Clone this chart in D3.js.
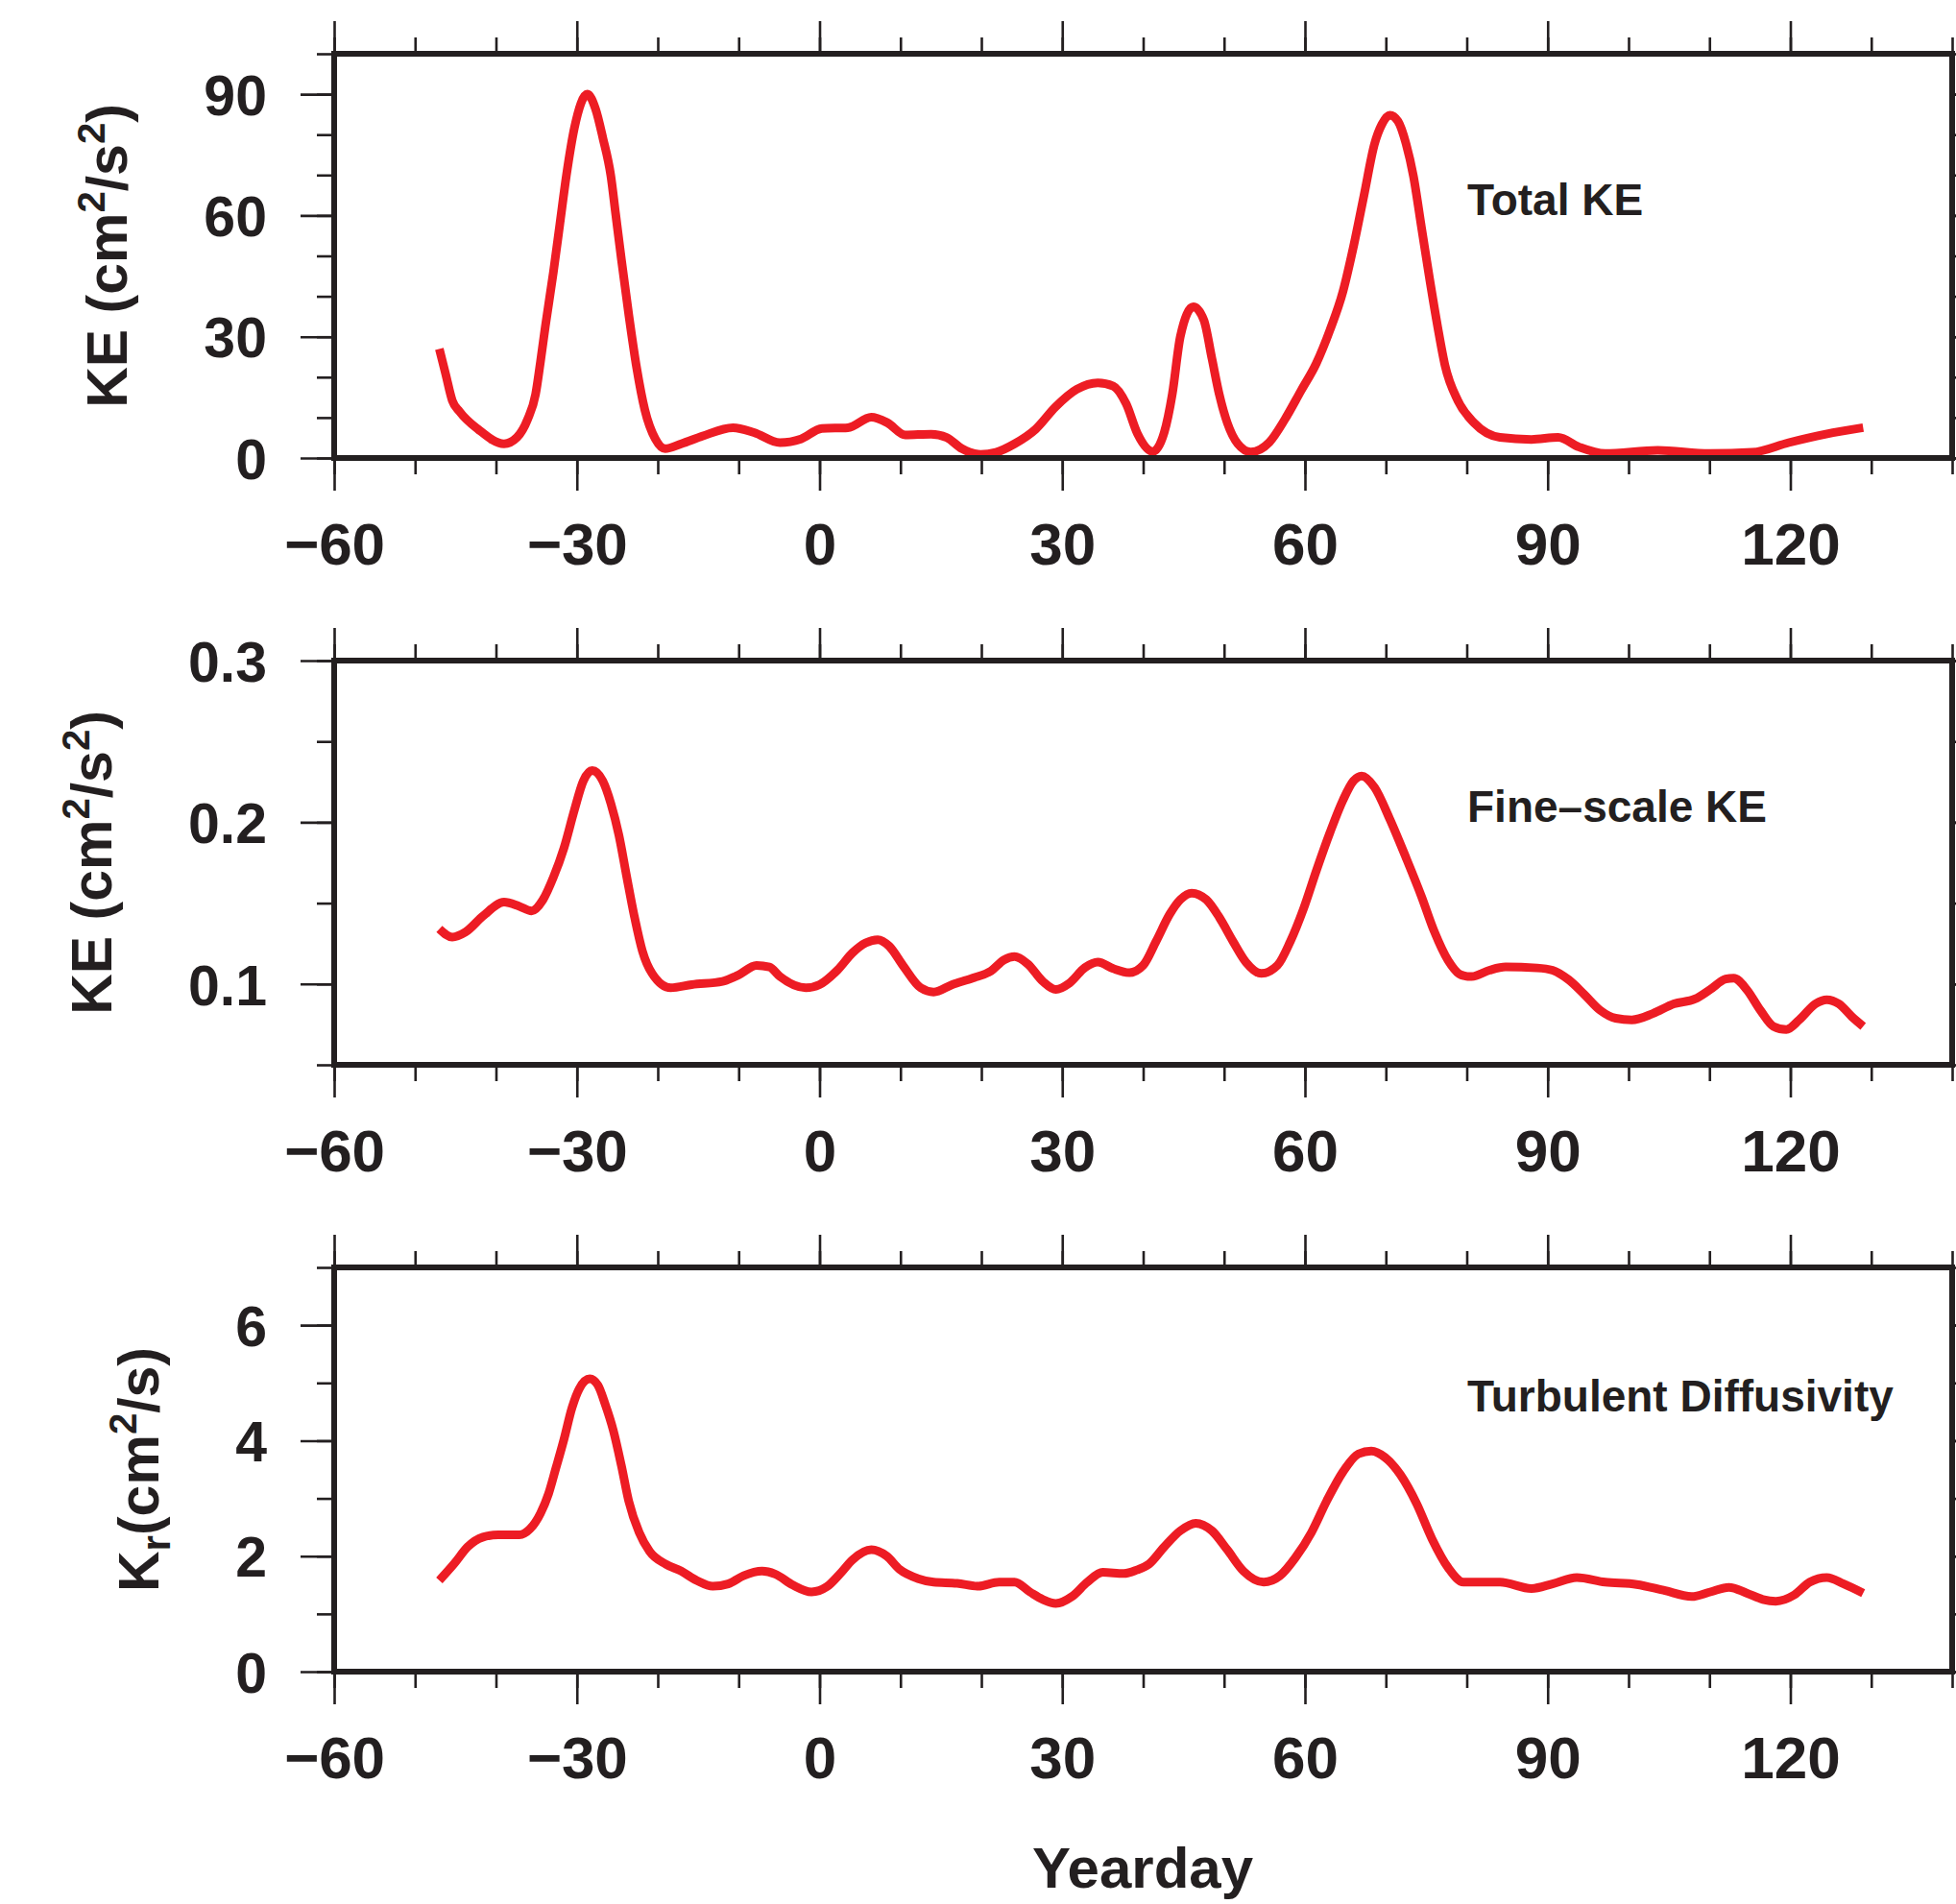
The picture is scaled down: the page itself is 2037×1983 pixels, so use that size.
<!DOCTYPE html>
<html>
<head>
<meta charset="utf-8">
<script src="https://cdn.jsdelivr.net/npm/d3@7"></script>
<style>
  body { margin: 0; background: #fff; }
  text { font-family: "Liberation Sans", Arial, Helvetica, sans-serif; font-weight: bold; fill: #231f20; }
</style>
</head>
<body>
<div id="chart"></div>
<script>
// yearday axis ticks
var xMajor = [-60, -30, 0, 30, 60, 90, 120];
var xMinor = d3.range(-60, 141, 10);

// panel 1: total KE (cm2/s2)
var totalDays = [-47, -46.2, -45.4, -44.5, -42.2, -39, -37.4, -36.1, -35.1, -34.5, -33.9, -32.9, -32.1, -31.3, -30.3, -28.7,
  -27.7, -26.8, -25.8, -25.2, -24.5, -23.6, -22.6, -21.6, -20.3, -19.1, -17.1, -14.5, -10.7, -8.1, -4.9, -2.3, 0.3, 3.5,
  6.4, 8.4, 10.6, 13.8, 15.7, 17.6, 19.9, 21.8, 24.1, 26.7, 29.2, 31.8, 34.4, 36.3, 37.9, 39.3, 41.2, 42.6, 43.6, 44.6,
  46.2, 47.5, 48.5, 49.4, 50.4, 51.7, 53.3, 55.6, 57.5, 59.5, 61.4, 63.1, 64.7, 66, 67.3, 68.6, 69.5, 70.5, 71.5, 72.5,
  73.4, 74.4, 75.4, 76.4, 77.3, 78.9, 80.9, 84.1, 88, 91.3, 93.9, 97.1, 103.6, 110.1, 115.3, 119.8, 124.4, 129];
var totalKE = [27, 20.6, 14.2, 11.5, 7.1, 3.5, 5.1, 9.5, 15.8, 23.8, 32.5, 46, 57.9, 69.8, 81.7, 90,
  86.4, 79.3, 69.8, 60.3, 49.2, 35.7, 22.2, 11.9, 4.7, 2.3, 3.5, 5.4, 7.5, 6.3, 3.8, 4.7, 7.3, 7.5,
  10.1, 8.7, 5.7, 5.9, 5.1, 2.3, 0.9, 1.4, 3.5, 7.1, 12.7, 17, 18.6, 17.8, 13.4, 6, 1.6, 6.3, 15.8, 30.1,
  37.4, 34.1, 24.6, 15.8, 8.7, 3.5, 1.5, 3.9, 9.5, 16.6, 23.4, 31.7, 41.2, 52.3, 65, 77.7, 82.5, 84.8, 83.3, 77.7,
  69.8, 57.1, 44.4, 32.5, 23, 14.2, 8.7, 5.1, 4.6, 5.1, 2.7, 1.1, 1.9, 1.1, 1.4, 3.8, 5.9, 7.5];

// panel 2: fine-scale KE (cm2/s2)
var fineDays = [-47, -45.4, -43.8, -41.6, -39, -37.1, -35.6, -34.2, -32.9, -31.6, -30.3, -29.2, -28.1, -26.8, -25.8, -24.8,
  -23.9, -22.9, -21.9, -20.7, -18.4, -15.8, -12, -10, -7.8, -6.2, -4.9, -1.7, 0, 2.2, 4.1, 5.7, 7.2, 8.6, 10.3, 12.5,
  14.1, 16.4, 18.9, 21.2, 22.8, 24.1, 25.7, 27.6, 29.2, 30.9, 32.8, 34.4, 36.3, 38.3, 40, 41.6, 43.3, 44.6, 46, 47.8,
  49.4, 51.1, 52.7, 54.6, 56.6, 58.2, 59.8, 61.4, 63.1, 64.7, 66, 67, 68.6, 70.5, 72.5, 74.4, 76, 77.7, 79.3, 80.6,
  82.8, 84.8, 88.7, 90.6, 92.6, 94.5, 96.5, 98.4, 100.4, 103, 105.6, 108.2, 110.1, 112, 113, 114.6, 116.3, 117.9,
  119.5, 121.1, 123.1, 124.5, 126, 127.6, 129];
var fineKE = [0.134, 0.129, 0.132, 0.142, 0.1506, 0.148, 0.1452, 0.152, 0.166, 0.184, 0.2077, 0.2256, 0.232, 0.2256, 0.2117, 0.1919,
  0.168, 0.142, 0.1204, 0.1065, 0.0976, 0.0996, 0.1016, 0.1056, 0.1115, 0.1105, 0.1046, 0.0976, 0.0996, 0.1085, 0.1194, 0.1254, 0.1274, 0.1234, 0.1115, 0.0976,
  0.095, 0.0996, 0.1036, 0.1081, 0.1149, 0.1169, 0.1125, 0.1016, 0.0966, 0.1006, 0.1101, 0.1135, 0.1095, 0.107, 0.1115, 0.1264, 0.1433, 0.1522, 0.1562, 0.1522,
  0.1413, 0.1264, 0.1135, 0.1065, 0.1115, 0.1264, 0.1462, 0.17, 0.1938, 0.2137, 0.2256, 0.2286, 0.2216, 0.2018, 0.178, 0.1542, 0.1323, 0.1145, 0.1056, 0.1046,
  0.1085, 0.1105, 0.1099, 0.1085, 0.1026, 0.0937, 0.0837, 0.0788, 0.0778, 0.0817, 0.0877, 0.0907, 0.0966, 0.103, 0.1036, 0.0966, 0.0837, 0.0738,
  0.0718, 0.0778, 0.0877, 0.0903, 0.0877, 0.0798, 0.0738];

// panel 3: turbulent diffusivity Kr (cm2/s)
var diffDays = [-47, -45.1, -43.5, -41.6, -39.7, -37.1, -35.8, -34.5, -33.5, -32.6, -31.6, -30.6, -29.7, -28.4, -27.4, -26.5,
  -25.5, -24.5, -23.6, -22.3, -21, -19, -17.1, -15.2, -13.2, -11.3, -9.4, -7.1, -5.5, -3.3, -1, 0.9, 2.5, 4.1, 6.4, 8.3,
  9.9, 12.2, 14.1, 17, 19.6, 22.2, 24.1, 26, 27.6, 29.2, 31.2, 33.1, 35, 37.6, 39.2, 40.7, 42.6, 44.6, 46.5, 48.5,
  50.4, 52.4, 54.9, 56.9, 58.8, 60.8, 62.7, 64.7, 66.6, 68.2, 69.9, 71.8, 73.8, 75.7, 77.7, 79.6, 84.1, 88, 90.6, 93.6,
  97.1, 101, 104.3, 107.8, 110.1, 112.4, 114.6, 116.6, 118.2, 120.5, 122.4, 124.5, 126.6, 129];
var diffK = [1.58, 1.88, 2.16, 2.33, 2.37, 2.37, 2.47, 2.74, 3.08, 3.52, 4.02, 4.57, 4.9, 5.07, 4.96, 4.63,
  4.18, 3.57, 2.96, 2.41, 2.08, 1.86, 1.74, 1.58, 1.48, 1.52, 1.66, 1.74, 1.69, 1.5, 1.38, 1.47, 1.69, 1.94, 2.11, 2,
  1.77, 1.61, 1.55, 1.53, 1.48, 1.55, 1.55, 1.38, 1.25, 1.18, 1.3, 1.55, 1.72, 1.7, 1.76, 1.86, 2.16, 2.44, 2.57, 2.44,
  2.11, 1.74, 1.55, 1.66, 1.97, 2.41, 2.96, 3.46, 3.77, 3.82, 3.71, 3.41, 2.91, 2.3, 1.8, 1.55, 1.55, 1.44, 1.52, 1.63,
  1.55, 1.51, 1.41, 1.3, 1.38, 1.46, 1.36, 1.25, 1.22, 1.33, 1.55, 1.63, 1.52, 1.36];

var width = 2037, height = 1983;
var ink = "#231f20", red = "#ed1c24";

var svg = d3.select("#chart").append("svg")
    .attr("width", width)
    .attr("height", height);

var x = d3.scaleLinear().domain([-60, 140]).range([348, 2033]);

var panels = [
  { top: 56, bottom: 477, ydom: [0, 100], yMajor: [0, 30, 60, 90], yMinor: d3.range(0, 101, 10),
    fmt: d3.format("d"), days: totalDays, vals: totalKE, label: "Total KE", labelY: 168,
    titleX: 132, title: "ke" },
  { top: 688, bottom: 1109, ydom: [0.05, 0.3], yMajor: [0.1, 0.2, 0.3], yMinor: [0.05, 0.1, 0.15, 0.2, 0.25, 0.3],
    fmt: d3.format(".1f"), days: fineDays, vals: fineKE, label: "Fine\u2013scale KE", labelY: 168,
    titleX: 116, title: "ke" },
  { top: 1320, bottom: 1741, ydom: [0, 7], yMajor: [0, 2, 4, 6], yMinor: d3.range(0, 8, 1),
    fmt: d3.format("d"), days: diffDays, vals: diffK, label: "Turbulent Diffusivity", labelY: 150,
    titleX: 165, title: "kr" }
];

function styleAxis(g) {
    g.select(".domain").remove();
    g.selectAll(".tick line").attr("stroke", ink).attr("stroke-width", 2.6);
}

panels.forEach(function(p) {
    var y = d3.scaleLinear().domain(p.ydom).range([p.bottom, p.top]);
    var g = svg.append("g");

    // minor ticks on all four sides
    g.append("g").attr("transform", "translate(" + x.range()[0] + ",0)")
        .call(d3.axisLeft(y).tickValues(p.yMinor).tickSize(18).tickFormat(""))
        .call(styleAxis);
    g.append("g").attr("transform", "translate(" + x.range()[1] + ",0)")
        .call(d3.axisRight(y).tickValues(p.yMinor).tickSize(18).tickFormat(""))
        .call(styleAxis);
    g.append("g").attr("transform", "translate(0," + p.top + ")")
        .call(d3.axisTop(x).tickValues(xMinor).tickSize(17).tickFormat(""))
        .call(styleAxis);
    g.append("g").attr("transform", "translate(0," + p.bottom + ")")
        .call(d3.axisBottom(x).tickValues(xMinor).tickSize(17).tickFormat(""))
        .call(styleAxis);

    // major ticks with labels
    g.append("g").attr("transform", "translate(" + x.range()[0] + ",0)")
        .call(d3.axisLeft(y).tickValues(p.yMajor).tickSize(35).tickPadding(35).tickFormat(p.fmt))
        .call(styleAxis)
        .selectAll("text")
        .attr("fill", ink).style("font-size", "59px").attr("dy", "0.36em");
    g.append("g").attr("transform", "translate(" + x.range()[1] + ",0)")
        .call(d3.axisRight(y).tickValues(p.yMajor).tickSize(35).tickFormat(""))
        .call(styleAxis);
    g.append("g").attr("transform", "translate(0," + p.top + ")")
        .call(d3.axisTop(x).tickValues(xMajor).tickSize(34).tickFormat(""))
        .call(styleAxis);
    g.append("g").attr("transform", "translate(0," + p.bottom + ")")
        .call(d3.axisBottom(x).tickValues(xMajor).tickSize(34).tickFormat(d3.format("d")))
        .call(styleAxis)
        .selectAll("text")
        .attr("fill", ink).style("font-size", "62px").attr("y", 111).attr("dy", 0);

    // curve
    var line = d3.line()
        .x(function(d, i) { return x(p.days[i]); })
        .y(function(d) { return y(d); })
        .curve(d3.curveMonotoneX);
    g.append("path")
        .datum(p.vals)
        .attr("fill", "none")
        .attr("stroke", red)
        .attr("stroke-width", 9)
        .attr("stroke-linejoin", "round")
        .attr("d", line);

    // frame
    g.append("rect")
        .attr("x", x.range()[0]).attr("y", p.top)
        .attr("width", x.range()[1] - x.range()[0]).attr("height", p.bottom - p.top)
        .attr("fill", "none").attr("stroke", ink).attr("stroke-width", 6);

    // panel label
    g.append("text")
        .attr("x", 1528).attr("y", p.top + p.labelY)
        .style("font-size", "46px")
        .text(p.label);

    // y axis title
    var t = g.append("text")
        .attr("transform", "translate(" + p.titleX + "," + (p.top + p.bottom) / 2 + ") rotate(-90)")
        .attr("text-anchor", "middle")
        .style("font-size", "59px");
    if (p.title === "ke") {
        t.append("tspan").text("KE (cm");
        t.append("tspan").attr("dy", -23).style("font-size", "40px").text("2");
        t.append("tspan").attr("dy", 23).text("/s");
        t.append("tspan").attr("dy", -23).style("font-size", "40px").text("2");
        t.append("tspan").attr("dy", 23).text(")");
    } else {
        t.append("tspan").text("K");
        t.append("tspan").attr("dy", 12).style("font-size", "42px").text("r");
        t.append("tspan").attr("dy", -12).text("(cm");
        t.append("tspan").attr("dy", -23).style("font-size", "40px").text("2");
        t.append("tspan").attr("dy", 23).text("/s)");
    }
});

svg.append("text")
    .attr("x", 1190).attr("y", 1966)
    .attr("text-anchor", "middle")
    .style("font-size", "60px")
    .text("Yearday");
</script>
</body>
</html>
